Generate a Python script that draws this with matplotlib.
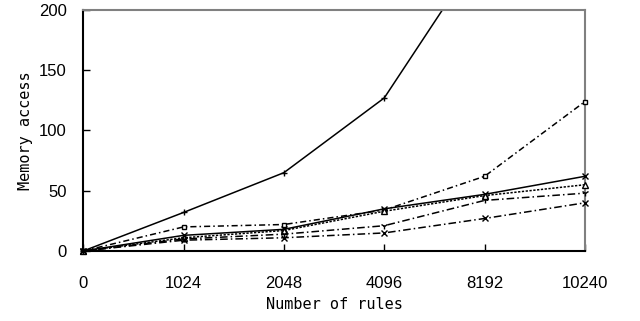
import matplotlib
matplotlib.use('Agg')
import matplotlib.pyplot as plt

# x categories (equally spaced)
rules = ['0', '1024', '2048', '4096', '8192', '10240']

# series
s_plus = [0, 32, 65, 127, 253, 400]
s_square = [0, 20, 22, 34, 62, 124]
s_x = [0, 13, 18, 35, 47, 62]
s_caret = [0, 11, 17, 33, 46, 55]
s_tri = [0, 10, 14, 21, 42, 48]
s_star = [0, 9, 11, 15, 27, 40]

fig = plt.figure(figsize=(6.4, 3.21), dpi=100)
ax = fig.add_axes([0.130, 0.218, 0.784, 0.751])

xs = list(range(len(rules)))
ymax = 200

styles = [
    (s_plus, '-', '+', 5, 'black'),
    (s_square, (0, (4, 2, 1, 2)), 's', 3.5, 'white'),
    (s_x, '-', 'x', 5, 'black'),
    (s_caret, (0, (1.5, 1)), '^', 4, 'white'),
    (s_tri, (0, (5, 2, 1, 2)), '1', 5, 'black'),
    (s_star, (0, (5, 2, 1, 2)), 'x', 5, 'black'),
]
for vals, ls, mk, ms, mfc in styles:
    # line clipped to the axes, markers drawn on top unclipped
    ax.plot(xs, vals, color='black', linestyle=ls, linewidth=1.1)
    px = [x for x, v in zip(xs, vals) if v <= ymax]
    py = [v for v in vals if v <= ymax]
    ax.plot(px, py, linestyle='none', marker=mk, markersize=ms,
            markerfacecolor=mfc, markeredgecolor='black',
            markeredgewidth=1.0, clip_on=False, zorder=3)

ax.set_xlim(0, 5)
ax.set_ylim(0, ymax)
ax.set_xticks(xs)
ax.set_xticklabels(rules)
ax.set_yticks([0, 50, 100, 150, 200])

tick_font = ['Liberation Sans Narrow', 'Liberation Sans']
for lab in ax.get_xticklabels() + ax.get_yticklabels():
    lab.set_family(tick_font)
    lab.set_fontsize(12)

ax.tick_params(direction='in', length=5, width=1, color='black')
ax.tick_params(axis='x', pad=18)
ax.tick_params(axis='y', pad=12)

ax.spines['left'].set_color('black')
ax.spines['bottom'].set_color('black')
ax.spines['top'].set_color('#808080')
ax.spines['right'].set_color('#808080')
for s in ax.spines.values():
    s.set_linewidth(1.5)

ax.set_xlabel('Number of rules', family='DejaVu Sans Mono', fontsize=11)
ax.set_ylabel('Memory access', family='DejaVu Sans Mono', fontsize=11)

plt.savefig('out.png', dpi=100)
